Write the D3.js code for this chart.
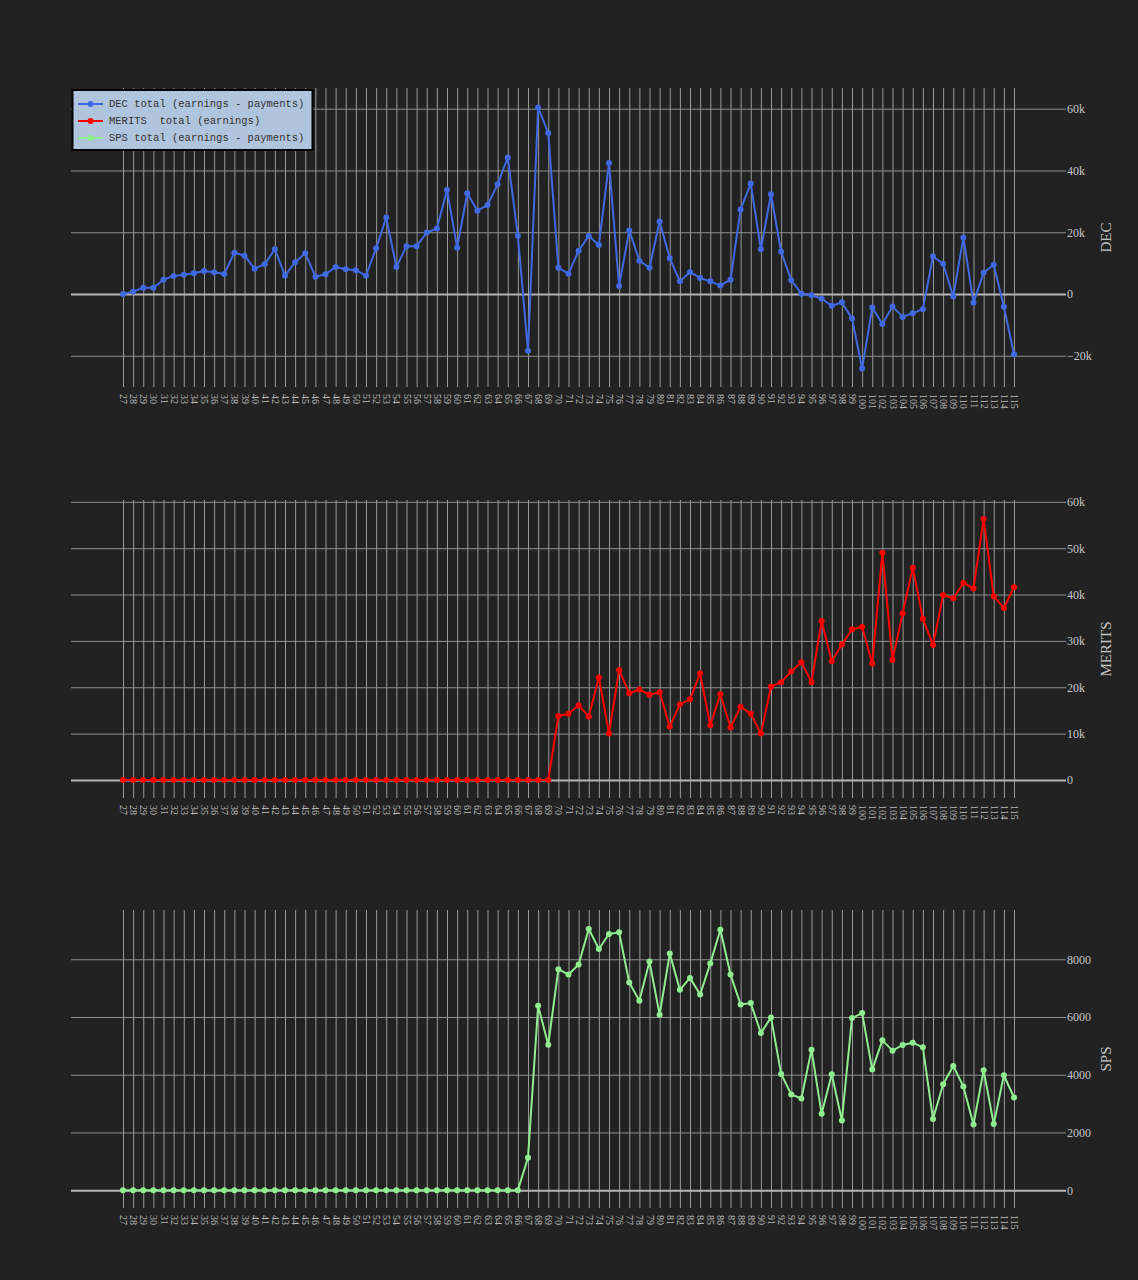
<!DOCTYPE html>
<html>
<head>
<meta charset="utf-8">
<script src="https://cdn.jsdelivr.net/npm/d3@7"></script>
<style>
  html, body { margin: 0; padding: 0; background: #222222; }
  svg { display: block; }
</style>
</head>
<body>
<svg id="chart" width="1138" height="1280"></svg>
<script>
// ---- data ----
const categories = ["27","28","29","30","31","32","33","34","35","36","37","38","39","40","41","42","43","44","45","46","47","48","49","50","51","52","53","54","55","56","57","58","59","60","61","62","63","64","65","66","67","68","69","70","71","72","73","74","75","76","77","78","79","80","81","82","83","84","85","86","87","88","89","90","91","92","93","94","95","96","97","98","99","100","101","102","103","104","105","106","107","108","109","110","111","112","113","114","115"];

const decValues = [0,760,2050,2050,4650,5840,6270,6700,7460,7030,6490,13400,12400,8200,9700,14500,5950,10300,13200,5600,6400,8750,8000,7700,5950,14800,24800,8750,15500,15500,19900,21200,33700,15000,32600,27000,28800,35500,44200,18900,-18400,60400,52100,8500,6600,14050,18800,15900,42400,2600,20600,10800,8500,23500,11600,4100,7100,5200,4100,2800,4650,27400,35800,14500,32300,13700,4500,100,-400,-1500,-3800,-2700,-7900,-24100,-4400,-9700,-4000,-7400,-6200,-4900,12200,9800,-800,18300,-2800,6900,9500,-4100,-19500];

const meritsValues = [0,0,0,0,0,0,0,0,0,0,0,0,0,0,0,0,0,0,0,0,0,0,0,0,0,0,0,0,0,0,0,0,0,0,0,0,0,0,0,0,0,0,0,13800,14300,16100,13700,22100,10000,23700,18700,19500,18400,18900,11500,16300,17400,23000,11800,18500,11300,15800,14300,10000,20100,21100,23400,25400,21100,34300,25600,29200,32500,33000,25100,49000,25900,35900,45800,34800,29100,39900,39200,42500,41300,56300,39600,37100,41600];

const spsValues = [0,0,0,0,0,0,0,0,0,0,0,0,0,0,0,0,0,0,0,0,0,0,0,0,0,0,0,0,0,0,0,0,0,0,0,0,0,0,0,0,1128,6388,5042,7655,7470,7816,9047,8357,8875,8932,7194,6561,7919,6078,8196,6941,7355,6780,7850,9024,7470,6435,6481,5445,5986,4029,3315,3177,4869,2647,4017,2417,5963,6135,4178,5191,4834,5030,5111,4950,2463,3672,4305,3591,2279,4155,2290,3983,3212];

const decTicks = [-20000, 0, 20000, 40000, 60000];
const meritsTicks = [0, 10000, 20000, 30000, 40000, 50000, 60000];
const spsTicks = [0, 2000, 4000, 6000, 8000];

const seriesNames = ["DEC total (earnings - payments)", "MERITS  total (earnings)", "SPS total (earnings - payments)"];
const axisTitles = ["DEC", "MERITS", "SPS"];

// ---- layout ----
const svg = d3.select("#chart");
const gridLeft = 71, gridRight = 1066;
const x = d3.scalePoint().domain(categories).range([123, 1014]);

const kfmt = d3.format("~s");
const panels = [
  { title: axisTitles[0], values: decValues, color: "#4169e1", top: 88, bottom: 387, domain: [-30100, 66700], ticks: decTicks, fmt: kfmt },
  { title: axisTitles[1], values: meritsValues, color: "#ff0000", top: 500, bottom: 798, domain: [-3900, 60400], ticks: meritsTicks, fmt: kfmt },
  { title: axisTitles[2], values: spsValues, color: "#90ee90", top: 910, bottom: 1208, domain: [-617, 9707], ticks: spsTicks, fmt: d3.format("d") }
];

panels.forEach(p => {
  const y = d3.scaleLinear().domain(p.domain).range([p.bottom, p.top]);
  const g = svg.append("g");

  // vertical grid + x tick labels
  const xAxis = d3.axisBottom(x).tickSize(p.bottom - p.top).tickPadding(0);
  const xg = g.append("g").attr("transform", `translate(0,${p.top})`).call(xAxis);
  xg.select(".domain").remove();
  xg.selectAll(".tick line").attr("stroke", "#9a9a9a").attr("stroke-width", 1);
  xg.selectAll(".tick text")
    .attr("fill", "#b8b8b8")
    .attr("font-family", "'Liberation Serif', serif")
    .attr("font-size", 10)
    .attr("transform", null)
    .attr("x", 0).attr("y", 0).attr("dy", null)
    .attr("text-anchor", "start")
    .attr("dominant-baseline", "central")
    .attr("transform", `translate(0,${p.bottom - p.top + 7}) rotate(90)`);

  // horizontal grid + y tick labels
  const yAxis = d3.axisRight(y).tickValues(p.ticks).tickFormat(p.fmt)
    .tickSize(-(gridRight - gridLeft)).tickPadding(1);
  const yg = g.append("g").attr("transform", `translate(${gridRight},0)`).call(yAxis);
  yg.select(".domain").remove();
  yg.selectAll(".tick line")
    .attr("stroke", d => d === 0 ? "#b5b5b5" : "#8f8f8f")
    .attr("stroke-width", d => d === 0 ? 2 : 1);
  yg.selectAll(".tick text")
    .attr("fill", "#c4c4c4")
    .attr("font-family", "'Liberation Serif', serif")
    .attr("font-size", 12);

  // axis title
  g.append("text")
    .attr("transform", `translate(1106,${(p.top + p.bottom) / 2}) rotate(-90)`)
    .attr("text-anchor", "middle")
    .attr("dominant-baseline", "central")
    .attr("fill", "#c4c4c4")
    .attr("font-family", "'Liberation Serif', serif")
    .attr("font-size", 15)
    .text(p.title);

  // line + markers
  const line = d3.line().x((d, i) => x(categories[i])).y(d => y(d));
  g.append("path").datum(p.values)
    .attr("d", line).attr("fill", "none")
    .attr("stroke", p.color).attr("stroke-width", 2).attr("stroke-linejoin", "round");
  g.selectAll("circle.pt").data(p.values).enter().append("circle")
    .attr("class", "pt")
    .attr("cx", (d, i) => x(categories[i])).attr("cy", d => y(d))
    .attr("r", 3).attr("fill", p.color);
});

// ---- legend ----
const lg = svg.append("g");
lg.append("rect").attr("x", 72.5).attr("y", 90).attr("width", 240).attr("height", 60)
  .attr("fill", "#b0c4de").attr("stroke", "#000").attr("stroke-width", 2);
const legendColors = panels.map(p => p.color);
seriesNames.forEach((name, i) => {
  const yy = 104 + i * 17;
  lg.append("line").attr("x1", 78).attr("x2", 103).attr("y1", yy).attr("y2", yy)
    .attr("stroke", legendColors[i]).attr("stroke-width", 2);
  lg.append("circle").attr("cx", 90.5).attr("cy", yy).attr("r", 3).attr("fill", legendColors[i]);
  lg.append("text").attr("x", 109).attr("y", yy)
    .attr("dominant-baseline", "central")
    .attr("fill", "#333")
    .attr("font-family", "'Liberation Mono', monospace")
    .attr("font-size", 10.5)
    .style("white-space", "pre")
    .attr("xml:space", "preserve")
    .text(name);
});
</script>
</body>
</html>
